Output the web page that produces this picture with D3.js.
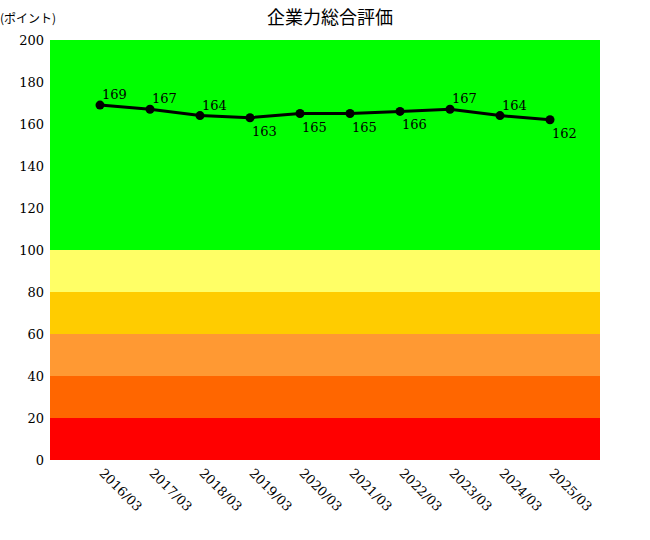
<!DOCTYPE html>
<html><head><meta charset="utf-8">
<script src="https://cdn.jsdelivr.net/npm/d3@7"></script>
<style>body{margin:0;background:#fff}text{font-family:"DejaVu Serif","Noto Sans CJK JP",serif}</style>
</head><body><div id="chart"></div>
<script>
var periods = ["2016/03","2017/03","2018/03","2019/03","2020/03","2021/03","2022/03","2023/03","2024/03","2025/03"];
var scores = [169,167,164,163,165,165,166,167,164,162];
var labelAbove = [true,true,true,false,false,false,false,true,true,false];
var bands = [
  {from:0,to:20,color:"#ff0000"},
  {from:20,to:40,color:"#ff6600"},
  {from:40,to:60,color:"#ff9933"},
  {from:60,to:80,color:"#ffcc00"},
  {from:80,to:100,color:"#ffff66"},
  {from:100,to:200,color:"#00ff00"}
];
var yTicks = [0,20,40,60,80,100,120,140,160,180,200];

var margin = {top:40, right:50, bottom:80, left:50};
var width = 650 - margin.left - margin.right;
var height = 540 - margin.top - margin.bottom;

var svg = d3.select("#chart").append("svg")
    .attr("width", 650).attr("height", 540);
var g = svg.append("g").attr("transform", `translate(${margin.left},${margin.top})`);

var x = d3.scaleLinear().domain([0, periods.length + 1]).range([0, width]);
var y = d3.scaleLinear().domain([0, 200]).range([height, 0]);

g.selectAll("rect.band").data(bands).enter().append("rect")
    .attr("x", 0).attr("width", width)
    .attr("y", d => y(d.to)).attr("height", d => y(d.from) - y(d.to))
    .attr("fill", d => d.color);

var yAxis = g.append("g").call(d3.axisLeft(y).tickValues(yTicks).tickSize(0).tickPadding(6));
yAxis.select(".domain").remove();
yAxis.selectAll("text").attr("font-size", 13).attr("fill", "#000").style("font-family", "DejaVu Serif");

var xAxis = g.append("g").attr("transform", `translate(0,${height})`)
    .call(d3.axisBottom(x).tickValues(periods.map((p, i) => i + 1)).tickFormat((d) => periods[d - 1]).tickSize(0));
xAxis.select(".domain").remove();
xAxis.selectAll("text")
    .attr("font-size", 13).attr("fill", "#000").style("font-family", "DejaVu Serif")
    .attr("text-anchor", "start").attr("dy", 0).attr("y", 0)
    .attr("transform", "translate(-2,14) rotate(45)");

var line = d3.line().x((d, i) => x(i + 1)).y(d => y(d));
g.append("path").datum(scores)
    .attr("fill", "none").attr("stroke", "#000").attr("stroke-width", 3)
    .attr("d", line);

g.selectAll("circle.pt").data(scores).enter().append("circle")
    .attr("cx", (d, i) => x(i + 1)).attr("cy", d => y(d)).attr("r", 4.5).attr("fill", "#000");

g.selectAll("text.lbl").data(scores).enter().append("text")
    .attr("x", (d, i) => x(i + 1) + 2)
    .attr("y", (d, i) => y(d) + (labelAbove[i] ? -6 : 18))
    .attr("font-size", 13).attr("fill", "#000")
    .text(d => d);

svg.append("text").attr("x", 330).attr("y", 24).attr("text-anchor", "middle")
    .attr("font-size", 18).style("font-family", "Noto Sans CJK JP").text("企業力総合評価");
svg.append("text").attr("x", 0).attr("y", 23)
    .attr("font-size", 12).style("font-family", "Noto Sans CJK JP").text("(ポイント)");
</script></body></html>
